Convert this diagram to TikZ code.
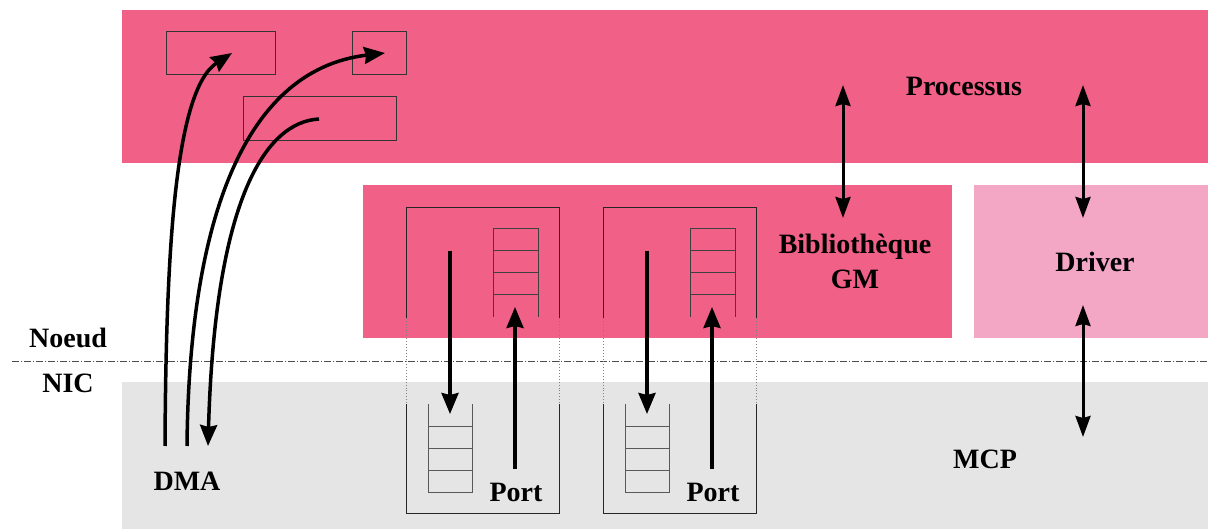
\documentclass[tikz,border=0pt]{standalone}
\usepackage{fontspec}
\setmainfont{Liberation Serif}[BoldFont={Liberation Serif Bold}]
\usetikzlibrary{arrows.meta}
\definecolor{procpink}{RGB}{241,96,134}
\definecolor{drvpink}{RGB}{244,167,197}
\definecolor{nicgray}{RGB}{229,229,229}
\begin{document}
\begin{tikzpicture}[x=1pt,y=-1pt,
  lbl/.style={font=\fontsize{28}{33}\selectfont\bfseries, align=center, inner sep=0pt},
  band/.style={draw=none, inner sep=0pt, outer sep=0pt, anchor=north west},
  smallbox/.style={draw=black!80, line width=1pt},
  qline/.style={line width=1pt},
  bigarrow/.style={line width=3.5pt, -{Stealth[length=21pt,width=17pt,inset=2pt]}},
  dblarrow/.style={line width=3pt, {Stealth[length=21pt,width=15pt,inset=2pt]}-{Stealth[length=21pt,width=15pt,inset=2pt]}},
  sep/.style={draw=black!70, line width=0.8pt, dash pattern=on 7pt off 2pt on 1pt off 2pt}]
\useasboundingbox (0,0) rectangle (1208,529);
% bands
\node[band, fill=procpink, minimum width=1086pt, minimum height=153pt] (proc) at (122,10) {};
\node[band, fill=procpink, minimum width=589pt, minimum height=153pt] (lib) at (363,185) {};
\node[band, fill=drvpink, minimum width=234pt, minimum height=153pt] (drv) at (974,185) {};
\node[band, fill=nicgray, minimum width=1086pt, minimum height=147pt] (nic) at (122,382) {};
% separator
\coordinate (sepL) at (12,361);
\coordinate (sepR) at (1208,361);
\draw[sep] (sepL) -- (sepR);
% small boxes in processus
\node[band, smallbox, minimum width=109pt, minimum height=43pt] (b1) at (166,32) {};
\node[band, smallbox, minimum width=54pt, minimum height=43pt] (b2) at (352,32) {};
\node[band, smallbox, minimum width=153pt, minimum height=44pt] (b3) at (243,97) {};
% ports
\foreach \dx/\n in {0/a,197/b}{
  \begin{scope}[xshift=\dx pt]
    \coordinate (p\n tl) at (406,207);
    \coordinate (p\n tr) at (559,207);
    \coordinate (p\n ml1) at (406,318);
    \coordinate (p\n mr1) at (559,318);
    \coordinate (p\n ml2) at (406,404);
    \coordinate (p\n mr2) at (559,404);
    \coordinate (p\n bl) at (406,513);
    \coordinate (p\n br) at (559,513);
    \draw[black!85, line width=0.9pt] (p\n ml1) -- (p\n tl) -- (p\n tr) -- (p\n mr1);
    \draw[black!85, line width=0.9pt] (p\n ml2) -- (p\n bl) -- (p\n br) -- (p\n mr2);
    \draw[black!50, line width=0.9pt, dotted] (p\n ml1) -- (p\n ml2);
    \draw[black!50, line width=0.9pt, dotted] (p\n mr1) -- (p\n mr2);
    % upper queue
    \draw[qline, black!75] (493,317) -- (493,229) -- (538,229) -- (538,317);
    \draw[qline, black!75] (493,251) -- (538,251) (493,273) -- (538,273) (493,295) -- (538,295);
    % lower queue
    \draw[qline, black!65] (428,404) -- (428,492) -- (472,492) -- (472,404);
    \draw[qline, black!65] (428,426) -- (472,426) (428,448) -- (472,448) (428,470) -- (472,470);
    % arrows
    \coordinate (d\n s) at (450,251);
    \coordinate (d\n e) at (450,414);
    \coordinate (u\n s) at (515,469);
    \coordinate (u\n e) at (515,307);
    \draw[bigarrow] (d\n s) -- (d\n e);
    \draw[bigarrow] (u\n s) -- (u\n e);
    \node[lbl] (port\n) at (516,492) {Port};
  \end{scope}
}
% labels
\node[lbl] (tproc) at (964,87) {Processus};
\node[lbl] (tlib) at (855,261) {Biblioth\`eque\\[2pt]GM};
\node[lbl] (tdrv) at (1095,262) {Driver};
\node[lbl] (tmcp) at (985,459) {MCP};
\node[lbl] (tdma) at (187,481) {DMA};
\node[lbl] (tnoeud) at (68,338) {Noeud};
\node[lbl] (tnic) at (68,383) {NIC};
% double arrows
\coordinate (a1t) at (843,85);
\coordinate (a1b) at (843,218);
\coordinate (a2t) at (1083,85);
\coordinate (a2b) at (1083,218);
\coordinate (a3t) at (1083,305);
\coordinate (a3b) at (1083,437);
\draw[dblarrow] (a1t) -- (a1b);
\draw[dblarrow] (a2t) -- (a2b);
\draw[dblarrow] (a3t) -- (a3b);
% DMA curves
\coordinate (c1s) at (165,446);
\coordinate (c1e) at (232,53);
\coordinate (c2s) at (187,446);
\coordinate (c2e) at (385,53);
\coordinate (c3s) at (319,119);
\coordinate (c3e) at (208,446);
\draw[bigarrow] (c1s) .. controls (166,250) and (175,90) .. (c1e);
\draw[bigarrow] (c2s) .. controls (189,230) and (240,70) .. (c2e);
\draw[bigarrow] (c3s) .. controls (265,122) and (215,200) .. (c3e);
\end{tikzpicture}
\end{document}
